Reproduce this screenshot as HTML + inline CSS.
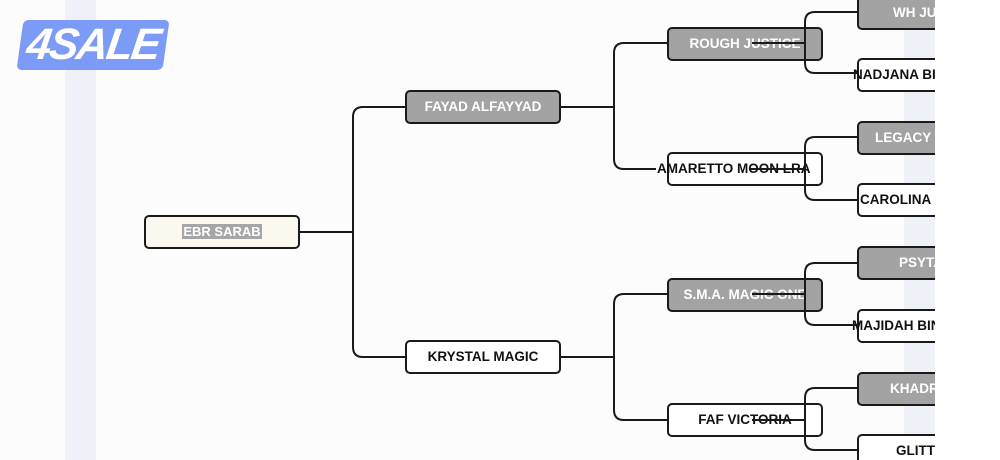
<!DOCTYPE html>
<html><head><style>
body{margin:0;width:1000px;height:460px;overflow:hidden;background:#fff;font-family:"Liberation Sans",sans-serif;}
#wrap{position:absolute;left:0;top:0;width:935px;height:460px;overflow:hidden;background:#fcfcfc;}
.stripe{position:absolute;background:#eef1f8;}
.n{position:absolute;box-sizing:border-box;border:2px solid #1a1a1a;border-radius:5px;height:34px;width:156px;font-weight:bold;font-size:13.5px;line-height:30px;white-space:nowrap;text-align:center;color:#111;background:#fff;}
.g{background:#a3a3a3;color:#fff;}
.l{text-align:left;}
.l span{position:absolute;}
svg{position:absolute;left:0;top:0;}
</style></head><body>
<div id="wrap">
<div class="stripe" style="left:65px;top:0;width:31px;height:460px"></div>
<div class="stripe" style="left:904px;top:30px;width:31px;height:430px"></div>

<div style="position:absolute;left:20px;top:20px;width:146px;height:50px;background:#7c9bf6;border-radius:5px;color:#fff;font-weight:bold;font-style:italic;font-size:44px;line-height:50px;letter-spacing:-2px;text-align:center;transform:skewX(-8deg);">4SALE</div>

<div class="n" style="left:144px;top:215px;background:#fbf8f0;"><span style="background:#a6a6a6;color:#fff;padding:0 1px;font-size:13px">EBR SARAB</span></div>

<div class="n g" style="left:405px;top:90px">FAYAD ALFAYYAD</div>
<div class="n" style="left:405px;top:340px">KRYSTAL MAGIC</div>

<div class="n g" style="left:667px;top:27px">ROUGH JUSTICE</div>
<div class="n l" style="left:667px;top:152px"><span style="left:-12px">AMARETTO MOON LRA</span></div>
<div class="n g" style="left:667px;top:278px">S.M.A. MAGIC ONE</div>
<div class="n" style="left:667px;top:403px">FAF VICTORIA</div>

<div class="n g l" style="left:857px;top:-4px;width:160px"><span style="left:34px">WH JUSTICE</span></div>
<div class="n l" style="left:857px;top:58px;width:160px"><span style="left:-6px">NADJANA BINT</span></div>
<div class="n g l" style="left:857px;top:121px;width:160px"><span style="left:16px">LEGACY</span></div>
<div class="n l" style="left:857px;top:183px;width:160px"><span style="left:1px">CAROLINA</span></div>
<div class="n g l" style="left:857px;top:246px;width:160px"><span style="left:40px">PSYTA</span></div>
<div class="n l" style="left:857px;top:309px;width:160px"><span style="left:-7px">MAJIDAH BINT</span></div>
<div class="n g l" style="left:857px;top:372px;width:160px"><span style="left:31px">KHADRA</span></div>
<div class="n l" style="left:857px;top:434px;width:160px"><span style="left:37px">GLITTER</span></div>

<svg width="935" height="460" fill="none" stroke="#1a1a1a" stroke-width="2">
<path d="M299 232 H353 M363 107 Q353 107 353 117 V347 Q353 357 363 357 H405 M363 107 H405"/>
<path d="M560 107 H614 M624 43 Q614 43 614 53 V159 Q614 169 624 169 H656 M624 43 H667"/>
<path d="M560 357 H614 M624 294 Q614 294 614 304 V410 Q614 420 624 420 H667 M624 294 H667"/>
<path d="M752 43 H805 M815 12 Q805 12 805 22 V63 Q805 73 815 73 H857 M815 12 H857"/>
<path d="M750 169 H805 M815 137 Q805 137 805 147 V190 Q805 200 815 200 H857 M815 137 H857"/>
<path d="M752 294 H805 M815 263 Q805 263 805 273 V315 Q805 325 815 325 H857 M815 263 H857"/>
<path d="M752 420 H805 M815 388 Q805 388 805 398 V440 Q805 450 815 450 H857 M815 388 H857"/>
</svg>
</div>
</body></html>
